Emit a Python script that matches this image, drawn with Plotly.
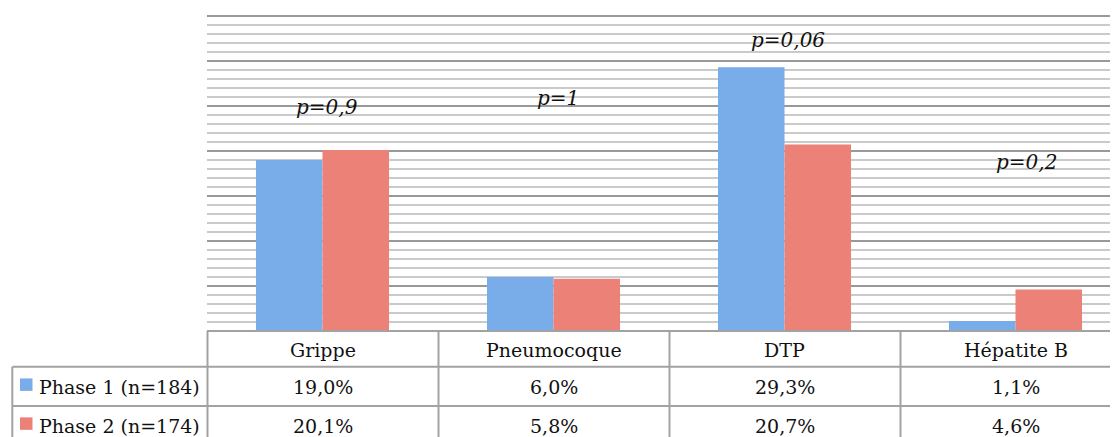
import plotly.graph_objects as go

categories = ["Grippe", "Pneumocoque", "DTP", "Hépatite B"]
series_names = ["Phase 1 (n=184)", "Phase 2 (n=174)"]
phase1 = [19.0, 6.0, 29.3, 1.1]
phase2 = [20.1, 5.8, 20.7, 4.6]
phase1_labels = ["19,0%", "6,0%", "29,3%", "1,1%"]
phase2_labels = ["20,1%", "5,8%", "20,7%", "4,6%"]
p_labels = ["p=0,9", "p=1", "p=0,06", "p=0,2"]
p_label_y = [24.9, 25.9, 32.3, 18.8]
p_label_dx = [0.02, 0.02, 0.017, 0.048]

OFF = 8  # page body margin
PAGE_W, PAGE_H = 1118, 437
W, H = PAGE_W - OFF, PAGE_H - OFF
Y_TOP = 35.2
unit_px = 9.02
page_base = 331.5
page_left = 207
ML = page_left - OFF
MB = PAGE_H - page_base
MT = (page_base - OFF) - Y_TOP * unit_px
MR = 0
plot_w = W - ML - MR
plot_h = H - MT - MB
cat_px = 231.0

def px_x(px):  # page px -> paper
    return (px - page_left) / plot_w

def px_y(py):  # page px -> paper
    return (page_base - py) / plot_h

blue = "#79ADEA"
red = "#EC8178"
grid_col = "#A2A2A2"
font_fam = "DejaVu Serif"
txt_col = "#111111"

fig = go.Figure()
fig.add_trace(go.Bar(x=list(range(len(categories))), y=phase1, name=series_names[0],
                     marker=dict(color=blue, line=dict(width=0))))
fig.add_trace(go.Bar(x=list(range(len(categories))), y=phase2, name=series_names[1],
                     marker=dict(color=red, line=dict(width=0))))

shapes = []
annotations = []

for i, (t, yv, dx) in enumerate(zip(p_labels, p_label_y, p_label_dx)):
    annotations.append(dict(x=i + dx, y=yv, xref="x", yref="y", text=t, showarrow=False,
                            xanchor="center", yanchor="middle",
                            font=dict(family=font_fam, size=20, color=txt_col, style="italic")))

row1_y = 367.3
row2_y = 406.7
bottom = PAGE_H + 20
line = dict(color=grid_col, width=2)
shapes.append(dict(type="line", xref="paper", yref="paper", x0=px_x(page_left), x1=1.0,
                   y0=px_y(page_base), y1=px_y(page_base), line=line))
for ry in (row1_y, row2_y):
    shapes.append(dict(type="line", xref="paper", yref="paper", x0=px_x(12.3), x1=1.0,
                       y0=px_y(ry), y1=px_y(ry), line=line))
shapes.append(dict(type="line", xref="paper", yref="paper", x0=px_x(12.3), x1=px_x(12.3),
                   y0=px_y(row1_y), y1=px_y(bottom), line=line))
for k in range(len(categories)):
    xpx = page_left + k * cat_px + 0.5
    shapes.append(dict(type="line", xref="paper", yref="paper", x0=px_x(xpx), x1=px_x(xpx),
                       y0=px_y(page_base), y1=px_y(bottom), line=line))

hdr_y, r1_y, r2_y = 351, 388, 427
tfont = dict(family=font_fam, size=19, color=txt_col)
for i, c in enumerate(categories):
    for text, yy in ((c, hdr_y), (phase1_labels[i], r1_y), (phase2_labels[i], r2_y)):
        annotations.append(dict(x=i, y=px_y(yy), xref="x", yref="paper", text=text,
                                showarrow=False, xanchor="center", yanchor="middle", font=tfont))

for name, col, ry in ((series_names[0], blue, r1_y), (series_names[1], red, r2_y)):
    shapes.append(dict(type="rect", xref="paper", yref="paper", x0=px_x(20), x1=px_x(32.5),
                       y0=px_y(ry - 9), y1=px_y(ry + 3.5), fillcolor=col, line=dict(width=0)))
    annotations.append(dict(x=px_x(37), y=px_y(ry), xref="paper", yref="paper", text=name,
                            showarrow=False, xanchor="left", yanchor="middle", font=tfont))

fig.update_layout(
    width=W, height=H,
    margin=dict(l=ML, r=MR, t=MT, b=MB, pad=0),
    paper_bgcolor="white", plot_bgcolor="white",
    barmode="group", bargap=0.424, bargroupgap=0,
    showlegend=False,
    shapes=shapes, annotations=annotations,
    xaxis=dict(range=[-0.5, -0.5 + plot_w / cat_px], showticklabels=False, showgrid=False,
               zeroline=False, showline=False, ticks=""),
    yaxis=dict(range=[0, Y_TOP], tick0=0, dtick=5, showticklabels=False, showgrid=True,
               gridcolor="#999999", gridwidth=1.5, zeroline=False, showline=False, ticks="",
               minor=dict(tick0=0, dtick=1, showgrid=True, gridcolor="#CACACA", gridwidth=1.5)),
)

fig.write_html("out.html")
